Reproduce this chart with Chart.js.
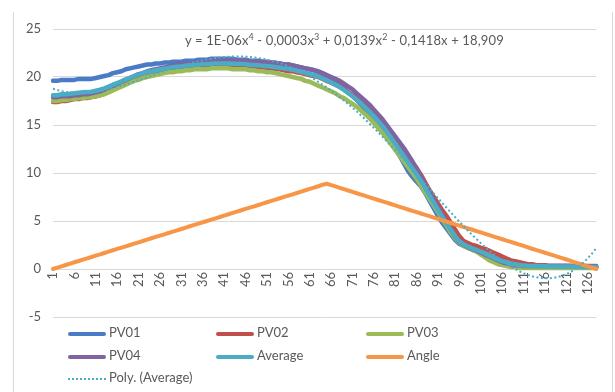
<!DOCTYPE html>
<html>
<head>
<meta charset="utf-8">
<script src="https://cdn.jsdelivr.net/npm/chart.js@4.4.1/dist/chart.umd.min.js"></script>
<style>
  html, body { margin: 0; padding: 0; background: #fff; }
  #wrap { position: relative; width: 615px; height: 392px; overflow: hidden; font-family: Lato, "Open Sans", sans-serif; color: #595959; }
  #frame { position: absolute; left: 13px; top: 12px; width: 600px; height: 400px; border-left: 1px solid #d9d9d9; border-right: 1px solid #d9d9d9; box-sizing: border-box; }
  #chart { position: absolute; left: 0; top: 0; }
  #eq { position: absolute; left: 185px; top: 32px; font-size: 13px; letter-spacing: 0.15px; white-space: nowrap; }
  #eq sup { font-size: 9px; line-height: 0; vertical-align: 5px; }
  .lg { position: absolute; font-size: 13px; white-space: nowrap; height: 18px; line-height: 18px; }
  .lg .sw { display: inline-block; width: 38px; height: 0; vertical-align: middle; margin-right: 3px; }
</style>
</head>
<body>
<div id="wrap">
  <div id="frame"></div>
  <canvas id="chart" width="615" height="392"></canvas>
  <div id="eq">y = 1E-06x<sup>4</sup> - 0,0003x<sup>3</sup> + 0,0139x<sup>2</sup> - 0,1418x + 18,909</div>
  <div id="legend"></div>
</div>
<script>
// Measurement index 1..128
const categories = Array.from({ length: 128 }, (_, i) => String(i + 1));

// Label every fifth category on the horizontal axis
const tickEvery = 5;

const pv01 = [
  19.6,19.6,19.7,19.7,19.7,19.7,19.8,19.8,19.8,19.8,
  19.9,20.0,20.1,20.2,20.4,20.5,20.6,20.8,20.9,21.0,
  21.1,21.2,21.3,21.3,21.4,21.4,21.5,21.5,21.6,21.6,
  21.6,21.7,21.7,21.7,21.8,21.8,21.8,21.9,21.9,21.9,
  21.9,21.9,21.9,21.8,21.8,21.8,21.7,21.7,21.7,21.6,
  21.6,21.5,21.5,21.4,21.3,21.3,21.2,21.1,21.0,20.9,
  20.8,20.7,20.5,20.3,20.1,19.8,19.5,19.2,18.8,18.4,
  18.0,17.6,17.1,16.6,16.1,15.6,15.1,14.6,14.0,13.3,
  12.6,11.8,11.0,10.2,9.6,9.1,8.6,7.9,7.1,6.3,
  5.5,4.8,4.2,3.6,3.0,2.6,2.4,2.2,2.0,1.9,
  1.8,1.6,1.4,1.2,1.0,0.9,0.8,0.7,0.6,0.5,
  0.5,0.4,0.4,0.4,0.3,0.3,0.3,0.3,0.3,0.3,
  0.3,0.3,0.2,0.2,0.2,0.2,0.2,0.2
];

const pv02 = [
  17.4,17.4,17.5,17.5,17.6,17.7,17.7,17.8,17.8,17.9,
  18.0,18.1,18.3,18.5,18.7,18.9,19.1,19.3,19.5,19.7,
  19.9,20.0,20.2,20.3,20.4,20.5,20.6,20.7,20.8,20.8,
  20.9,20.9,21.0,21.0,21.0,21.1,21.1,21.1,21.1,21.1,
  21.1,21.1,21.1,21.1,21.1,21.0,21.0,21.0,21.0,20.9,
  20.9,20.9,20.8,20.8,20.7,20.6,20.6,20.5,20.4,20.3,
  20.2,20.1,20.0,19.8,19.6,19.4,19.2,19.0,18.7,18.4,
  18.1,17.8,17.4,17.0,16.6,16.2,15.7,15.2,14.6,14.0,
  13.4,12.8,12.3,11.7,11.1,10.5,9.8,9.0,8.2,7.5,
  6.8,6.1,5.5,4.8,4.1,3.4,2.9,2.7,2.5,2.4,
  2.2,2.1,1.9,1.7,1.5,1.3,1.1,0.9,0.8,0.7,
  0.6,0.5,0.5,0.4,0.4,0.4,0.3,0.3,0.3,0.3,
  0.3,0.3,0.3,0.2,0.2,0.2,0.2,0.2
];

const pv03 = [
  17.5,17.5,17.6,17.6,17.7,17.7,17.8,17.8,17.9,17.9,
  18.0,18.1,18.2,18.4,18.6,18.8,19.0,19.2,19.4,19.6,
  19.7,19.9,20.0,20.1,20.2,20.3,20.4,20.5,20.5,20.6,
  20.6,20.7,20.7,20.8,20.8,20.8,20.8,20.9,20.9,20.9,
  20.9,20.9,20.8,20.8,20.8,20.8,20.7,20.7,20.6,20.6,
  20.5,20.5,20.4,20.3,20.2,20.1,20.0,19.9,19.8,19.6,
  19.5,19.3,19.1,18.9,18.7,18.5,18.3,18.0,17.8,17.5,
  17.2,16.9,16.5,16.1,15.7,15.2,14.7,14.2,13.6,13.0,
  12.4,11.8,11.2,10.6,10.0,9.4,8.7,8.0,7.3,6.6,
  5.9,5.2,4.5,3.8,3.2,2.7,2.4,2.2,2.0,1.8,
  1.5,1.2,0.9,0.7,0.5,0.4,0.3,0.2,0.2,0.1,
  0.1,0.1,0.1,0.1,0.1,0.1,0.1,0.1,0.1,0.1,
  0.1,0.1,0.1,0.1,0.1,0.1,0.1,0.1
];

const pv04 = [
  17.9,17.9,18.0,18.0,18.0,18.1,18.1,18.2,18.2,18.3,
  18.4,18.5,18.7,18.9,19.1,19.3,19.5,19.7,19.9,20.1,
  20.3,20.4,20.6,20.7,20.8,20.9,21.0,21.1,21.2,21.3,
  21.3,21.4,21.4,21.5,21.5,21.6,21.6,21.6,21.7,21.7,
  21.7,21.7,21.7,21.7,21.7,21.7,21.6,21.6,21.6,21.6,
  21.5,21.5,21.4,21.4,21.3,21.3,21.2,21.1,21.0,20.9,
  20.8,20.7,20.6,20.4,20.2,20.0,19.8,19.6,19.3,19.0,
  18.7,18.3,17.9,17.5,17.1,16.6,16.1,15.6,15.0,14.4,
  13.8,13.2,12.6,11.9,11.2,10.4,9.6,8.8,8.0,7.2,
  6.4,5.6,4.8,4.1,3.4,2.8,2.5,2.3,2.1,1.9,
  1.7,1.5,1.3,1.1,0.9,0.7,0.6,0.5,0.4,0.4,
  0.3,0.3,0.3,0.3,0.3,0.3,0.3,0.3,0.3,0.3,
  0.3,0.3,0.3,0.3,0.3,0.3,0.3,0.3
];

const angle = [
  0,0.14,0.28,0.42,0.56,0.70,0.83,0.97,1.11,1.25,
  1.39,1.53,1.67,1.81,1.95,2.09,2.22,2.36,2.50,2.64,
  2.78,2.92,3.06,3.20,3.34,3.48,3.61,3.75,3.89,4.03,
  4.17,4.31,4.45,4.59,4.73,4.87,5.00,5.14,5.28,5.42,
  5.56,5.70,5.84,5.98,6.12,6.26,6.39,6.53,6.67,6.81,
  6.95,7.09,7.23,7.37,7.51,7.65,7.78,7.92,8.06,8.20,
  8.34,8.48,8.62,8.78,8.88,8.74,8.60,8.46,8.32,8.18,
  8.04,7.89,7.75,7.61,7.47,7.33,7.19,7.05,6.91,6.77,
  6.63,6.48,6.34,6.20,6.06,5.92,5.78,5.64,5.50,5.36,
  5.22,5.07,4.93,4.79,4.65,4.51,4.37,4.23,4.09,3.95,
  3.81,3.66,3.52,3.38,3.24,3.10,2.96,2.82,2.68,2.54,
  2.40,2.25,2.11,1.97,1.83,1.69,1.55,1.41,1.27,1.13,
  0.99,0.85,0.70,0.56,0.42,0.28,0.14,0
];

// Mean of the four PV strings
const average = pv01.map((v, i) => (v + pv02[i] + pv03[i] + pv04[i]) / 4);

// 4th-order least-squares trend of the average (x = 1..n)
function polyFit(ys, degree) {
  const n = degree + 1;
  const A = Array.from({ length: n }, () => new Array(n + 1).fill(0));
  ys.forEach((y, i) => {
    const x = (i + 1) / ys.length;
    const pw = [];
    for (let k = 0; k < 2 * n; k++) pw.push(Math.pow(x, k));
    for (let r = 0; r < n; r++) {
      for (let c = 0; c < n; c++) A[r][c] += pw[r + c];
      A[r][n] += y * pw[r];
    }
  });
  for (let p = 0; p < n; p++) {
    let best = p;
    for (let r = p + 1; r < n; r++) if (Math.abs(A[r][p]) > Math.abs(A[best][p])) best = r;
    [A[p], A[best]] = [A[best], A[p]];
    for (let r = 0; r < n; r++) {
      if (r === p) continue;
      const f = A[r][p] / A[p][p];
      for (let c = p; c <= n; c++) A[r][c] -= f * A[p][c];
    }
  }
  const coef = A.map((row, i) => row[n] / row[i]);
  return ys.map((_, i) => {
    const x = (i + 1) / ys.length;
    return coef.reduce((s, c, k) => s + c * Math.pow(x, k), 0);
  });
}
const polyAverage = polyFit(average, 4);

const series = [
  { label: 'PV01', data: pv01, color: '#4a7bc6', width: 4.5 },
  { label: 'PV02', data: pv02, color: '#c0504d', width: 4.5 },
  { label: 'PV03', data: pv03, color: '#9bbb59', width: 4.5 },
  { label: 'PV04', data: pv04, color: '#8064a2', width: 4.5 },
  { label: 'Average', data: average, color: '#4bacc6', width: 4.5 },
  { label: 'Angle', data: angle, color: '#f79646', width: 4 },
  { label: 'Poly. (Average)', data: polyAverage, color: '#4bacc6', width: 2, dash: [2, 2.5] }
];

const datasets = series.map((s, i) => ({
  label: s.label,
  data: s.data,
  borderColor: s.color,
  backgroundColor: s.color,
  borderWidth: s.width,
  borderDash: s.dash || [],
  borderCapStyle: s.dash ? 'butt' : 'round',
  borderJoinStyle: 'round',
  pointRadius: 0,
  tension: 0,
  fill: false,
  order: series.length - i   // later series paint over earlier ones
}));

const chart = new Chart(document.getElementById('chart'), {
  type: 'line',
  data: { labels: categories, datasets },
  options: {
    responsive: false,
    animation: false,
    devicePixelRatio: 1,
    layout: { padding: { left: 13, right: 17, top: 29, bottom: 75 } },
    plugins: { legend: { display: false }, tooltip: { enabled: false } },
    scales: {
      x: {
        type: 'category',
        position: { y: 0 },
        offset: false,
        grid: { display: false, drawTicks: false },
        border: { display: false },
        ticks: {
          autoSkip: false,
          maxRotation: 90,
          minRotation: 90,
          padding: 3,
          color: '#595959',
          font: { family: 'Lato', size: 13 },
          callback: (v, i) => (i % tickEvery === 0 ? categories[i] : '')
        },
        afterFit: (scale) => { scale.height = 0; }
      },
      y: {
        min: -5,
        max: 25,
        grid: { color: '#d9d9d9', lineWidth: 1, drawTicks: false },
        border: { display: false },
        ticks: {
          stepSize: 5,
          padding: 12,
          color: '#595959',
          font: { family: 'Lato', size: 13 }
        },
        afterFit: (scale) => { scale.width = 40; }
      }
    }
  }
});

// Three-column legend in dataset order
const legendCols = [68, 216, 366];
const legendRows = [323, 346, 368];
const legend = document.getElementById('legend');
series.forEach((s, i) => {
  const item = document.createElement('div');
  item.className = 'lg';
  item.style.left = legendCols[i % 3] + 'px';
  item.style.top = legendRows[Math.floor(i / 3)] + 'px';
  const sw = document.createElement('span');
  sw.className = 'sw';
  sw.style.borderTop = s.dash ? '2px dotted ' + s.color : '4px solid ' + s.color;
  if (!s.dash) sw.style.borderRadius = '2px';
  item.appendChild(sw);
  item.appendChild(document.createTextNode(s.label));
  legend.appendChild(item);
});
</script>
</body>
</html>
